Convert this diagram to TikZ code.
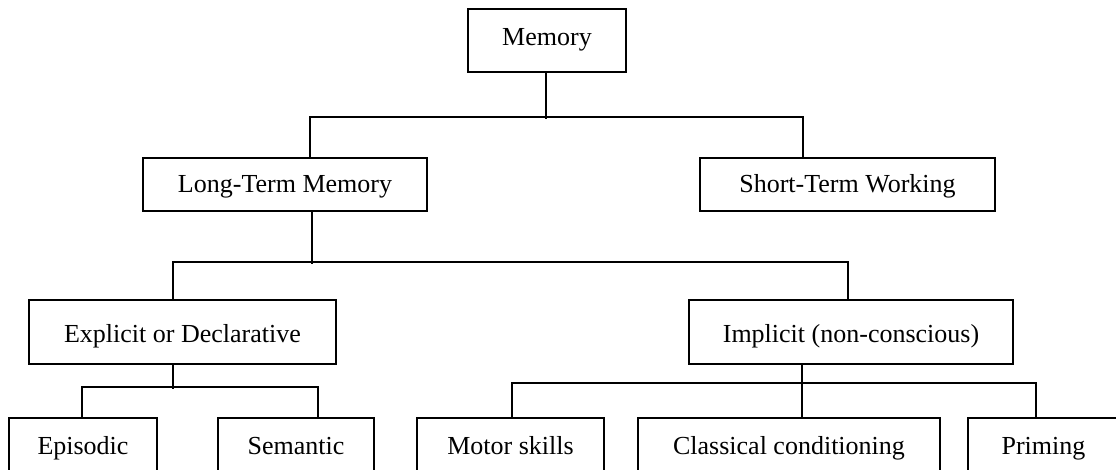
\documentclass[tikz,border=0pt]{standalone}
\usepackage{fontspec}
\setmainfont{Liberation Serif}
\begin{document}
\begin{tikzpicture}[x=1pt,y=-1pt,
  box/.style={draw=black, line width=1.8pt, rectangle, inner sep=0pt,
    font=\fontsize{26}{30}\selectfont, text height=20pt, text depth=3pt},
  conn/.style={draw=black, line width=1.8pt}]
\useasboundingbox (0,0) rectangle (1116,470);
% nodes
\node[box, text depth=9pt, minimum width=158pt, minimum height=63pt] (mem) at (547,40.5) {Memory};
\node[box, minimum width=284pt, minimum height=53pt] (ltm) at (285,184.5) {Long-Term Memory};
\node[box, minimum width=295pt, minimum height=53pt] (stw) at (847.5,184.5) {Short-Term Working};
\node[box, text depth=0pt, minimum width=307pt, minimum height=64pt] (ecd) at (182.5,332) {Explicit or Declarative};
\node[box, text depth=0pt, minimum width=324pt, minimum height=64pt] (imp) at (851,332) {Implicit (non-conscious)};
\node[box, text depth=2pt, minimum width=148pt, minimum height=54pt] (epi) at (83,445) {Episodic};
\node[box, text depth=2pt, minimum width=156pt, minimum height=54pt] (sem) at (296,445) {Semantic};
\node[box, text depth=2pt, minimum width=187pt, minimum height=54pt] (mot) at (510.5,445) {Motor skills};
\node[box, text depth=2pt, minimum width=302pt, minimum height=54pt] (cla) at (789,445) {Classical conditioning};
\node[box, text depth=2pt, minimum width=151pt, minimum height=54pt] (pri) at (1043.5,445) {Priming};
% connectors
\draw[conn] ([xshift=-1pt]mem.south) -- ++(0,46);
\draw[conn] ([xshift=25pt]ltm.north) -- ++(0,-40) -| ([xshift=-44.5pt]stw.north);
\draw[conn] ([xshift=27pt]ltm.south) -- ++(0,52);
\draw[conn] ([xshift=-9.5pt]ecd.north) -- ++(0,-37) -| ([xshift=-3pt]imp.north);
\draw[conn] ([xshift=-9.5pt]ecd.south) -- ++(0,24);
\draw[conn] ([xshift=-1pt]epi.north) -- ++(0,-30) -| ([xshift=22pt]sem.north);
\draw[conn] ([xshift=-49pt]imp.south) -- ([xshift=13pt]cla.north);
\draw[conn] ([xshift=1.5pt]mot.north) -- ++(0,-34) -| ([xshift=-7.5pt]pri.north);
\end{tikzpicture}
\end{document}
